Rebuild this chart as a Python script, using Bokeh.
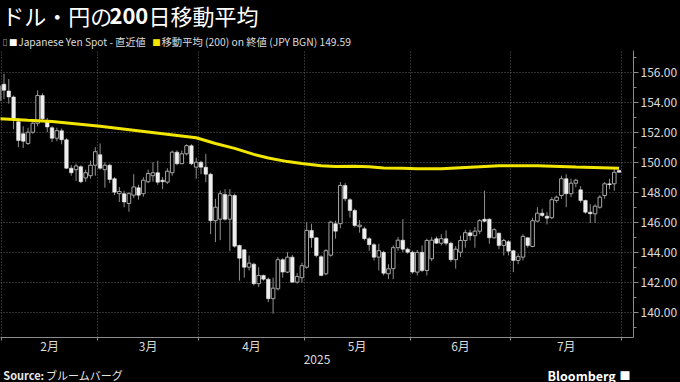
import numpy as np
import pandas as pd
from bokeh.plotting import figure
from bokeh.layouts import column
from bokeh.models import Range1d, FixedTicker, NumeralTickFormatter
from bokeh.core.properties import value
from bokeh.embed import file_html
from bokeh.resources import INLINE

# ---------------- data ----------------
start_date = "2025-01-31"
end_date = "2025-07-31"

open_ = [155.10, 155.20, 154.75, 154.35, 152.70, 151.90, 151.25, 152.00, 152.60, 154.45,
         152.70, 152.30, 151.60, 152.10, 151.50, 149.60, 149.50, 149.70, 148.95, 149.10,
         149.80, 150.50, 149.50, 149.80, 148.90, 147.90, 147.90, 147.25, 147.80, 148.30,
         147.90, 148.70, 149.10, 149.30, 148.80, 148.67, 149.30, 150.67, 149.90, 150.56,
         151.10, 149.67, 150.00, 149.67, 149.20, 146.10, 146.20, 147.85, 146.20, 147.78,
         144.45, 144.16, 143.00, 143.20, 141.90, 142.45, 142.20, 140.90, 141.56, 143.50,
         142.67, 143.67, 142.00, 142.30, 143.00, 145.45, 144.96, 143.70, 142.56, 143.80,
         145.90, 145.90, 148.45, 147.50, 146.78, 145.70, 145.56, 144.90, 144.50, 143.67,
         143.99, 142.56, 142.90, 144.30, 144.80, 144.20, 144.00, 142.67, 143.99, 142.78,
         143.56, 144.90, 144.60, 144.90, 144.60, 143.50, 144.00, 144.78, 145.29, 145.10,
         145.40, 146.20, 146.20, 144.96, 145.27, 144.45, 144.70, 144.10, 143.45, 143.67,
         144.96, 144.38, 146.07, 146.60, 146.40, 146.30, 147.45, 147.78, 148.90, 147.90,
         148.60, 148.16, 147.45, 146.67, 146.56, 147.00, 147.78, 148.56, 148.56, 149.45]
high = [155.40, 155.90, 155.55, 154.45, 152.95, 152.40, 152.30, 152.70, 154.80, 154.60,
        152.95, 152.40, 152.30, 152.25, 151.60, 149.80, 149.90, 149.80, 149.50, 150.10,
        151.00, 151.25, 150.00, 149.90, 149.00, 148.35, 148.10, 148.00, 149.20, 148.50,
        149.00, 149.50, 150.00, 150.10, 149.00, 149.60, 150.78, 150.80, 150.78, 151.20,
        151.20, 150.30, 150.10, 150.56, 149.30, 147.56, 148.10, 148.20, 148.20, 147.90,
        144.50, 144.20, 143.78, 143.30, 143.00, 142.50, 142.30, 142.30, 143.67, 143.60,
        144.00, 143.80, 142.60, 143.30, 146.00, 145.90, 145.00, 143.80, 144.20, 146.10,
        146.10, 148.67, 148.60, 147.60, 146.90, 146.15, 145.70, 145.00, 144.60, 144.56,
        144.10, 143.20, 144.45, 145.00, 146.20, 144.30, 144.10, 144.15, 144.45, 144.90,
        145.00, 145.05, 145.20, 145.45, 144.70, 144.40, 145.10, 145.50, 145.50, 145.67,
        146.20, 148.10, 146.25, 145.60, 145.30, 144.90, 144.80, 144.15, 143.90, 145.20,
        145.00, 146.30, 147.00, 146.90, 146.67, 147.67, 147.78, 149.10, 149.20, 148.90,
        148.90, 148.40, 147.50, 147.20, 147.20, 147.80, 148.67, 148.90, 149.56, 149.50]
low = [153.90, 154.20, 153.90, 152.20, 151.00, 150.95, 151.15, 151.90, 152.40, 152.75,
       152.00, 151.35, 151.40, 151.20, 149.55, 149.10, 148.75, 148.60, 148.70, 148.90,
       149.10, 149.50, 148.30, 148.60, 147.80, 147.35, 147.00, 146.70, 147.60, 147.50,
       147.70, 148.60, 148.70, 148.50, 148.20, 148.55, 149.10, 149.80, 149.90, 150.45,
       149.80, 148.90, 149.20, 148.67, 145.20, 144.67, 144.80, 146.10, 144.07, 144.30,
       142.10, 142.30, 142.78, 141.78, 141.67, 142.10, 140.67, 139.90, 141.45, 142.30,
       142.60, 142.00, 141.90, 141.95, 142.90, 144.30, 143.65, 142.40, 142.45, 143.70,
       144.90, 145.60, 147.40, 146.30, 145.66, 145.30, 144.78, 144.10, 143.45, 142.78,
       142.45, 142.20, 142.20, 144.10, 144.00, 143.90, 142.56, 142.45, 142.67, 142.45,
       143.40, 144.55, 144.45, 144.45, 143.35, 142.90, 143.67, 144.30, 144.78, 144.30,
       145.20, 146.00, 144.56, 144.90, 144.20, 143.78, 143.78, 142.67, 143.20, 143.45,
       144.30, 144.33, 146.00, 146.35, 145.85, 146.20, 147.30, 147.56, 147.00, 147.67,
       148.33, 147.30, 146.56, 145.95, 145.95, 146.90, 147.56, 148.20, 148.10, 149.30]
close = [154.10, 154.80, 154.35, 152.90, 151.45, 151.40, 152.00, 152.60, 154.45, 152.90,
         152.35, 151.60, 152.10, 151.50, 149.60, 149.30, 149.75, 148.70, 149.30, 149.80,
         150.70, 149.60, 149.80, 148.85, 148.00, 148.05, 147.35, 147.90, 148.35, 147.80,
         148.80, 149.25, 149.30, 148.67, 148.70, 149.40, 150.67, 149.90, 150.56, 151.10,
         149.90, 150.00, 149.67, 149.20, 146.10, 147.00, 147.90, 146.20, 147.80, 144.40,
         143.60, 143.00, 143.27, 141.90, 142.45, 142.20, 140.90, 141.60, 143.50, 142.67,
         143.67, 142.00, 142.38, 143.10, 145.45, 144.96, 143.78, 142.45, 144.10, 146.00,
         145.40, 148.45, 147.56, 146.78, 145.78, 145.80, 144.90, 144.50, 143.67, 144.10,
         142.60, 142.89, 144.30, 144.80, 144.20, 144.00, 142.67, 143.99, 142.78, 144.78,
         144.80, 144.60, 144.90, 144.60, 143.50, 144.20, 144.78, 145.30, 145.10, 145.40,
         146.10, 146.06, 144.96, 145.50, 144.45, 144.78, 144.07, 143.45, 143.70, 145.05,
         144.45, 146.10, 146.60, 146.45, 146.27, 147.50, 147.67, 148.90, 147.90, 148.60,
         148.80, 147.45, 146.67, 146.56, 147.07, 147.67, 148.56, 148.50, 149.33, 149.33]

ma_dates = ["2025-01-31", "2025-02-10", "2025-02-17", "2025-03-03", "2025-03-17",
            "2025-03-31", "2025-04-04", "2025-04-10", "2025-04-16", "2025-04-21",
            "2025-04-25", "2025-04-30", "2025-05-06", "2025-05-09", "2025-05-15",
            "2025-05-20", "2025-05-23", "2025-05-29", "2025-06-03", "2025-06-10",
            "2025-06-18", "2025-06-26", "2025-07-08", "2025-07-18", "2025-07-31"]
ma_values = [152.90, 152.80, 152.72, 152.40, 152.02,
             151.63, 151.25, 150.92, 150.52, 150.28,
             150.04, 149.91, 149.76, 149.71, 149.73,
             149.70, 149.62, 149.59, 149.56, 149.56,
             149.67, 149.76, 149.77, 149.68, 149.59]

month_labels = ["2月", "3月", "4月", "5月", "6月", "7月"]
year_label = "2025"
y_ticks = [140, 142, 144, 146, 148, 150, 152, 154, 156]

title_parts = ["ドル・円の", "200", "日移動平均"]
legend_spot = "Japanese Yen Spot - 直近値"
legend_ma = "移動平均 (200) on 終値 (JPY BGN) 149.59"
source_bold = "Source:"
source_text = "ブルームバーグ"
brand = "Bloomberg"

# ---------------- derived ----------------
dates = pd.bdate_range(start_date, end_date)
n = len(dates)
idx = np.arange(n, dtype=float)
o = np.array(open_)
h = np.array(high)
l = np.array(low)
c = np.array(close)

up = c >= o
body_lo = np.minimum(o, c)
body_hi = np.maximum(np.maximum(o, c), body_lo + 0.06)

months = dates.to_period("M")
uniq = months.unique()
starts = [int(np.argmax(months == m)) for m in uniq]
boundaries = [s - 0.5 for s in starts[1:]] + [n - 0.5]
mids = []
for k, m in enumerate(uniq):
    if int((months == m).sum()) < 5:
        continue
    lo_b = starts[k] - 0.5
    hi_b = (starts[k + 1] - 0.5) if k + 1 < len(starts) else n - 0.5
    mids.append((lo_b + hi_b) / 2)
overrides = {float(mv): lab for mv, lab in zip(mids, month_labels)}

ma_x = [float(dates.get_loc(pd.Timestamp(d))) for d in ma_dates]

# ---------------- styling ----------------
FONT = "Noto Sans CJK JP"
GRAY = "#8c8c8c"
TXT = "#dcdcdc"
YELLOW = "#f2e600"
W, H = 680, 382

# ---- main chart ----
p = figure(width=W, height=H, output_backend="svg",
           toolbar_location=None, tools="", title=None,
           x_range=Range1d(0.274, 132.0), y_range=Range1d(138.31, 157.45),
           x_axis_location="below", y_axis_location="right",
           background_fill_color="black", border_fill_color="black",
           outline_line_color=None,
           min_border_left=0, min_border_top=50, min_border_right=45,
           min_border_bottom=45)

p.xgrid.ticker = FixedTicker(ticks=boundaries)
yticker = FixedTicker(ticks=y_ticks,
                      minor_ticks=list(np.arange(y_ticks[0] - 1, y_ticks[-1] + 2, 2)))
p.ygrid.ticker = yticker
for g in (p.xgrid[0], p.ygrid[0]):
    g.grid_line_color = "#5e5e5e"
    g.grid_line_dash = "1 2"
    g.grid_line_width = 1

ya = p.yaxis[0]
ya.ticker = yticker
ya.formatter = NumeralTickFormatter(format="0.00")
ya.axis_line_color = GRAY
ya.major_tick_line_color = GRAY
ya.minor_tick_line_color = GRAY
ya.major_tick_out = 5
ya.major_tick_in = 0
ya.minor_tick_out = 3
ya.minor_tick_in = 0
ya.major_label_standoff = 2
ya.major_label_text_color = TXT
ya.major_label_text_font = FONT
ya.major_label_text_font_size = "12px"

xa = p.xaxis[0]
xa.ticker = FixedTicker(ticks=mids, minor_ticks=boundaries)
xa.major_label_overrides = overrides
xa.axis_line_color = GRAY
xa.major_tick_line_color = None
xa.major_tick_out = 0
xa.major_tick_in = 0
xa.minor_tick_line_color = GRAY
xa.minor_tick_out = 3
xa.minor_tick_in = 0
xa.major_label_standoff = -4
xa.major_label_text_color = TXT
xa.major_label_text_font = FONT
xa.major_label_text_font_size = "12px"
xa.axis_label = year_label
xa.axis_label_standoff = -2
xa.axis_label_text_font_style = "normal"
xa.axis_label_text_font = FONT
xa.axis_label_text_font_size = "12px"
xa.axis_label_text_color = TXT

p.segment(x0=idx, y0=l, x1=idx, y1=h, line_color="#8f8f8f", line_width=1)
p.vbar(x=idx[~up], bottom=body_lo[~up], top=body_hi[~up], width=0.75,
       fill_color="#eeeeee", line_color="#eeeeee", line_width=0.5)
p.vbar(x=idx[up], bottom=body_lo[up], top=body_hi[up], width=0.75,
       fill_color="#000000", line_color="#a6a6a6", line_width=1)
p.line(ma_x, ma_values, line_color=YELLOW, line_width=3)

# ---- transparent overlay for the free texts (title, legend, source, brand) ----
ov = figure(width=W, height=H, output_backend="svg", toolbar_location=None, tools="",
            title=None, x_range=Range1d(0, W), y_range=Range1d(H, 0),
            x_axis_location=None, y_axis_location=None,
            background_fill_color=None, border_fill_color=None,
            outline_line_color=None,
            min_border_left=0, min_border_right=0, min_border_top=0, min_border_bottom=0)
ov.xgrid.visible = False
ov.ygrid.visible = False
ov.margin = (-H, 0, 0, 0)


def put(text, x, y, size, color=TXT, bold=False, font=FONT, align="left"):
    ov.text(x=[x], y=[y], text=[text], text_font=value(font), text_font_size=value(size),
            text_color=color, text_font_style="bold" if bold else "normal",
            text_align=align, text_baseline="middle")


put(title_parts[0], 2, 14.5, "22px", "white")
put(title_parts[1], 117, 14.5, "22px", "white", bold=True)
put(title_parts[2], 159, 14.5, "22px", "white")
put("▯", 2, 41, "9px", "#9a9a9a", font="DejaVu Sans")
put("■", 9, 41, "8.5px", "white")
put(legend_spot, 19, 41, "10.2px")
put("■", 163, 41, "8.5px", YELLOW)
put(legend_ma, 173, 41, "10.3px")
put(source_bold, 3, 374.5, "11px", "#e6e6e6", bold=True)
put(source_text, 49, 374.5, "11px", "#e6e6e6")
put(brand, 661, 374.5, "12.5px", "white", bold=True, align="right")
put("■", 665, 374.5, "11px", "white")

layout = column(p, ov, spacing=0, styles={"background-color": "black"})
open("out.html", "w").write(file_html(layout, INLINE))
